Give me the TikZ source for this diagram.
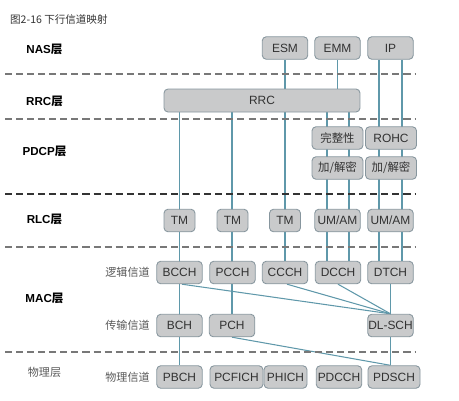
\documentclass[tikz,border=0pt]{standalone}
\usepackage{fontspec}
\setmainfont{Liberation Sans}
\newfontfamily\cjk{Noto Sans CJK SC}
\usetikzlibrary{backgrounds}
\definecolor{chanfill}{RGB}{201,202,203}
\definecolor{chanedge}{RGB}{135,150,158}
\definecolor{linkblue}{RGB}{95,152,170}
\definecolor{dashgray}{RGB}{120,120,120}
\definecolor{boxtext}{RGB}{50,50,50}
\tikzset{
    chan/.style = {draw = chanedge, fill = chanfill, rounded corners = 0.08cm, line width = 0.5pt,
        minimum height = 0.45cm, minimum width = 0.91cm, inner sep = 0pt,
        font = \fontsize{6.8}{7}\selectfont, text = boxtext},
    layer/.style = {font = \fontsize{6.6}{7}\selectfont\bfseries},
    sublabel/.style = {font = \cjk\fontsize{6.3}{7}\selectfont, text = black!65},
    link/.style = {draw = linkblue, line width = 0.6pt},
    sep/.style = {draw = dashgray, line width = 0.6pt, dash pattern = on 4pt off 2.3pt}
}
\begin{document}
\begin{tikzpicture}[x = 0.02cm, y = -0.02cm]
    \useasboundingbox (0,0) rectangle (459,400);
    \node[anchor = west, font = \cjk\fontsize{6}{7}\selectfont, text = black!80] (title) at (4,19) {图2-16 下行信道映射};
    % layer names
    \node[layer] (nas) at (44.5,49) {NAS{\cjk 层}};
    \node[layer] (rrcl) at (44.5,101) {RRC{\cjk 层}};
    \node[layer] (pdcpl) at (44.5,151) {PDCP{\cjk 层}};
    \node[layer] (rlcl) at (44.5,219) {RLC{\cjk 层}};
    \node[layer] (macl) at (44.5,298) {MAC{\cjk 层}};
    \node[sublabel] (phyl) at (44.5,372) {物理层};
    \begin{scope}[every node/.append style = sublabel]
        \node (logic) at (127.5,272) {逻辑信道};
        \node (trans) at (127.5,325) {传输信道};
        \node (phys) at (127.5,377) {物理信道};
    \end{scope}
    % separators
    \begin{scope}[style = sep]
        \draw (5,74) -- (415,74);
        \draw (5,119) -- (415,119);
        \draw[draw = black!80] (5,194) -- (415,194);
        \draw (5,247) -- (415,247);
        \draw (5,352) -- (415,352);
    \end{scope}
    % NAS / RRC
    \node[chan] (esm) at (285,48) {ESM};
    \node[chan] (emm) at (337.5,48) {EMM};
    \node[chan] (ip) at (390.5,48) {IP};
    \node[chan, minimum width = 3.92cm, minimum height = 0.46cm] (rrc) at (262,100.5) {RRC};
    % PDCP
    \node[chan, minimum width = 1.02cm, font = \cjk\fontsize{6.5}{7}\selectfont] (integ) at (337.5,138) {完整性};
    \node[chan, minimum width = 1.02cm] (rohc) at (391,138) {ROHC};
    \node[chan, minimum width = 1.02cm, font = \cjk\fontsize{6.5}{7}\selectfont] (cipha) at (337.5,168) {加/解密};
    \node[chan, minimum width = 1.02cm, font = \cjk\fontsize{6.5}{7}\selectfont] (ciphb) at (391,168) {加/解密};
    % RLC
    \node[chan, minimum width = 0.62cm] (tma) at (179.5,220.5) {TM};
    \node[chan, minimum width = 0.62cm] (tmb) at (232.5,220.5) {TM};
    \node[chan, minimum width = 0.62cm] (tmc) at (285,220.5) {TM};
    \node[chan] (uma) at (337.5,220.5) {UM/AM};
    \node[chan] (umb) at (390.5,220.5) {UM/AM};
    % logical channels
    \node[chan] (bcch) at (179.5,272.5) {BCCH};
    \node[chan] (pcch) at (232.5,272.5) {PCCH};
    \node[chan] (ccch) at (285,272.5) {CCCH};
    \node[chan] (dcch) at (338,272.5) {DCCH};
    \node[chan] (dtch) at (390.5,272.5) {DTCH};
    % transport channels
    \node[chan] (bch) at (179.5,325.5) {BCH};
    \node[chan] (pch) at (232,325.5) {PCH};
    \node[chan] (dlsch) at (390.5,325.5) {DL-SCH};
    % physical channels
    \node[chan] (pbch) at (179.5,377) {PBCH};
    \node[chan, minimum width = 1.06cm] (pcfich) at (236.5,377) {PCFICH};
    \node[chan, minimum width = 0.86cm] (phich) at (285.5,377) {PHICH};
    \node[chan] (pdcch) at (339,377) {PDCCH};
    \node[chan, minimum width = 1.04cm] (pdsch) at (394,377) {PDSCH};
    \begin{pgfonlayer}{background}
        \begin{scope}[style = link]
            \draw (esm) -- (ccch);
            \draw (emm) -- (emm |- rrc.center);
            \draw ([xshift = -0.23cm]ip.south) -- ([xshift = -0.23cm]dtch.north);
            \draw ([xshift = 0.23cm]ip.south) -- ([xshift = 0.23cm]dtch.north);
            \draw ([xshift = -0.22cm]dcch.north |- rrc.south) -- ([xshift = -0.22cm]dcch.north);
            \draw ([xshift = 0.22cm]dcch.north |- rrc.south) -- ([xshift = 0.22cm]dcch.north);
            \draw (pbch) -- (pbch |- rrc.center);
            \draw (pch) -- (pch |- rrc.center);
            \draw (dtch) -- (dtch |- pdsch.north);
            \draw ([xshift = 0.05cm]bcch.south) -- (dlsch.north);
            \draw ([xshift = 0.04cm]ccch.south) -- (dlsch.north);
            \draw (dcch.south) -- (dlsch.north);
            \draw (pch.south) -- (pdsch.north -| dlsch);
        \end{scope}
    \end{pgfonlayer}
\end{tikzpicture}
\end{document}
